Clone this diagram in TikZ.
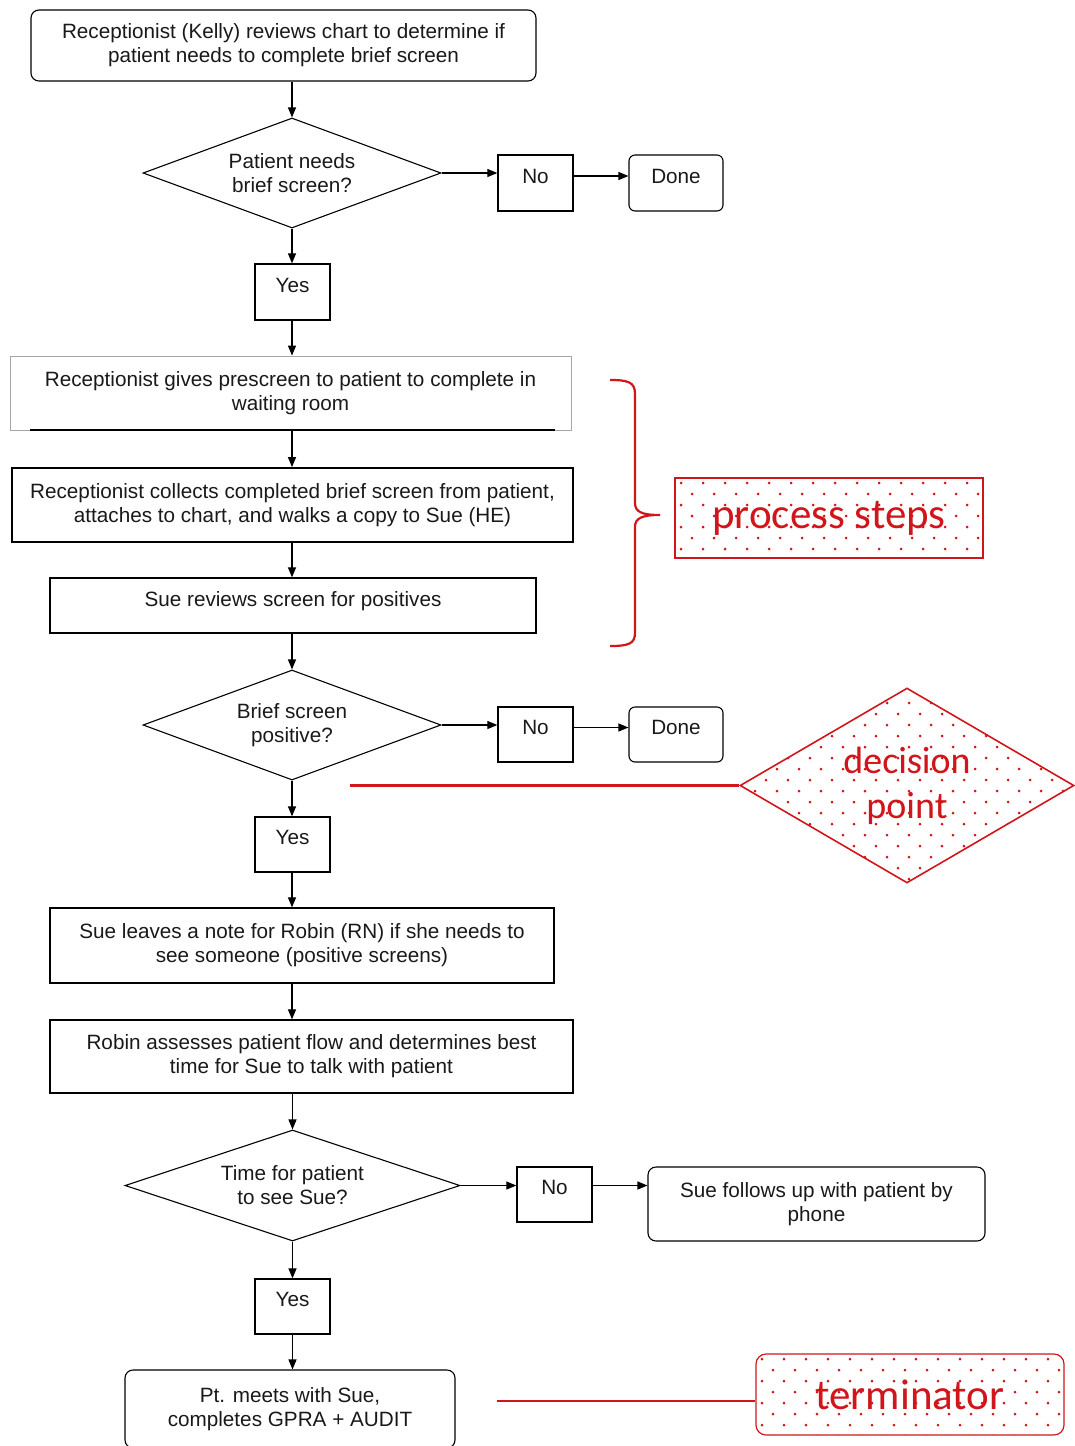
\documentclass[tikz,border=0pt]{standalone}
\usepackage{fontspec}
\setmainfont{Liberation Sans}
\newfontfamily\annfont{Carlito}
\usetikzlibrary{shapes.geometric,arrows.meta}
\definecolor{annred}{RGB}{208,22,26}
\definecolor{txt}{RGB}{25,25,25}
\begin{document}
\begin{tikzpicture}[x=1pt,y=-1pt,
  every node/.style={font=\fontsize{20.7}{24}\selectfont, text=txt, align=center, inner sep=0pt},
  box/.style={draw, line width=1.3pt},
  rbox/.style={draw, line width=1.1pt, rounded corners=8pt},
  small/.style={draw, line width=1.3pt, text depth=14pt},
  dec/.style={draw, line width=1.1pt, diamond, aspect=2.7},
  arr/.style={line width=1.2pt, -{Triangle[length=10pt,width=8pt]}},
  ann/.style={draw=annred, line width=1.2pt, text=annred, font=\annfont\fontsize{43}{45}\selectfont},
  annline/.style={annred, line width=2.2pt},
  dot/.style={fill=annred}
]
\useasboundingbox (0,0) rectangle (1074,1446);

% ---------- dotted fills of the annotations ----------
\begin{scope}
  \clip (675,478) rectangle (983,558);
  \foreach \r [evaluate=\r as \off using {mod(\r,2)*11}] in {0,...,7}
    \foreach \c in {0,...,14}
      \fill[dot] ({681+22*\c+\off},{483+11*\r}) circle (1.5);
\end{scope}
\begin{scope}
  \clip (740,785) -- (908,688) -- (1074,785) -- (908,883) -- cycle;
  \foreach \r [evaluate=\r as \off using {mod(\r,2)*11}] in {0,...,18}
    \foreach \c in {0,...,15}
      \fill[dot] ({744+22*\c+\off},{692+11*\r}) circle (1.5);
\end{scope}
\begin{scope}
  \clip[rounded corners=10pt] (756,1354) rectangle (1064,1435);
  \foreach \r [evaluate=\r as \off using {mod(\r,2)*11}] in {0,...,7}
    \foreach \c in {0,...,14}
      \fill[dot] ({762+22*\c+\off},{1359+11*\r}) circle (1.5);
\end{scope}

% ---------- flowchart ----------
\node[rbox, minimum width=505pt, minimum height=71pt] (b1) at (283.5,45.5)
  {Receptionist (Kelly) reviews chart to determine if\\patient needs to complete brief screen};
\node[dec, minimum width=298pt, minimum height=110pt] (d1) at (292,173)
  {Patient needs\\brief screen?};
\node[small, minimum width=75pt, minimum height=56pt] (n1) at (535.5,183) {No};
\node[small, rounded corners=6pt, line width=1.1pt, minimum width=94pt, minimum height=56pt] (done1) at (676,183) {Done};
\node[small, minimum width=75pt, minimum height=56pt] (y1) at (292.5,292) {Yes};
\node[draw=gray!70, line width=0.8pt, minimum width=561pt, minimum height=74pt] (b3) at (290.5,393)
  {Receptionist gives prescreen to patient to complete in\\waiting room};
\draw[line width=2pt] ([xshift=20pt]b3.south west) -- ([xshift=-16pt]b3.south east);
\node[box, line width=1.8pt, minimum width=561pt, minimum height=74pt] (b4) at (292.5,505)
  {Receptionist collects completed brief screen from patient,\\attaches to chart, and walks a copy to Sue (HE)};
\node[box, text depth=13pt, minimum width=486pt, minimum height=55pt] (b5) at (293,605.5)
  {Sue reviews screen for positives};
\node[dec, minimum width=298pt, minimum height=110pt] (d2) at (292,725)
  {Brief screen\\positive?};
\node[small, minimum width=75pt, minimum height=55pt] (n2) at (535.5,734.5) {No};
\node[small, rounded corners=6pt, line width=1.1pt, minimum width=94pt, minimum height=55pt] (done2) at (676,734.5) {Done};
\node[small, minimum width=75pt, minimum height=55pt] (y2) at (292.5,844.5) {Yes};
\node[box, minimum width=504pt, minimum height=75pt] (b6) at (302,945.5)
  {Sue leaves a note for Robin (RN) if she needs to\\see someone (positive screens)};
\node[box, minimum width=523pt, minimum height=73pt] (b7) at (311.5,1056.5)
  {Robin assesses patient flow and determines best\\time for Sue to talk with patient};
\node[dec, minimum width=335pt, minimum height=111pt] (d3) at (292.5,1185.5)
  {Time for patient\\to see Sue?};
\node[small, minimum width=75pt, minimum height=55pt] (n3) at (554.5,1194.5) {No};
\node[rbox, minimum width=337pt, minimum height=74pt] (ph) at (816.5,1204)
  {Sue follows up with patient by\\phone};
\node[small, minimum width=75pt, minimum height=55pt] (y3) at (292.5,1306.5) {Yes};
\node[rbox, minimum width=330pt, minimum height=78pt] (fin) at (290,1409)
  {Pt. meets with Sue,\\completes GPRA + AUDIT};

% connectors
\draw[arr] (d1.north |- b1.south) -- (d1.north);
\draw[arr] (d1.east) -- (d1.east -| n1.west);
\draw[arr] ([yshift=7pt]n1.east) -- ([yshift=7pt]done1.west);
\draw[arr] (d1.south) -- (d1.south |- y1.north);
\draw[arr] (d1.south |- y1.south) -- (d1.south |- b3.north);
\draw[arr] (d1.south |- b3.south) -- (d1.south |- b4.north);
\draw[arr] (d1.south |- b4.south) -- (d1.south |- b5.north);
\draw[arr] (d2.north |- b5.south) -- (d2.north);
\draw[arr] (d2.east) -- (d2.east -| n2.west);
\draw[arr] ([yshift=7pt]n2.east) -- ([yshift=7pt]done2.west);
\draw[arr] (d2.south) -- (d2.south |- y2.north);
\draw[arr] (d2.south |- y2.south) -- (d2.south |- b6.north);
\draw[arr] (d2.south |- b6.south) -- (d2.south |- b7.north);
\draw[arr] (d3.north |- b7.south) -- (d3.north);
\draw[arr] (d3.east) -- (d3.east -| n3.west);
\draw[arr] ([yshift=9pt]n3.east) -- ([yshift=9pt]n3.east -| ph.west);
\draw[arr] (d3.south) -- (d3.south |- y3.north);
\draw[arr] (d3.south |- y3.south) -- (d3.south |- fin.north);

% ---------- annotations ----------
\node[ann, minimum width=308pt, minimum height=80pt] (ps) at (829,518) {process steps};
\node[ann, diamond, aspect=1.7, line width=1.6pt, minimum width=334pt, minimum height=195pt,
  font=\annfont\fontsize{38}{45}\selectfont] (dp) at (907,785.5) {decision\\point};
\node[ann, rounded corners=10pt, minimum width=308pt, minimum height=81pt] (tm) at (910,1394.5) {terminator};

\coordinate (bt) at (610,380);
\coordinate (bb) at (610,646);
\coordinate (bm) at (660,515);
\draw[annline] (bt) .. controls (628,380) and (635,382) .. (635,394) -- (635,503)
  .. controls (635,512) and (642,515) .. (bm)
  .. controls (642,515) and (635,518) .. (635,527) -- (635,633)
  .. controls (635,644) and (628,646) .. (bb);
\coordinate (dl) at (350,785.5);
\draw[annline] (dl) -- (dp.west);
\coordinate (tl) at (497,1401);
\draw[annline] (tl) -- (tl -| tm.west);
\end{tikzpicture}
\end{document}
